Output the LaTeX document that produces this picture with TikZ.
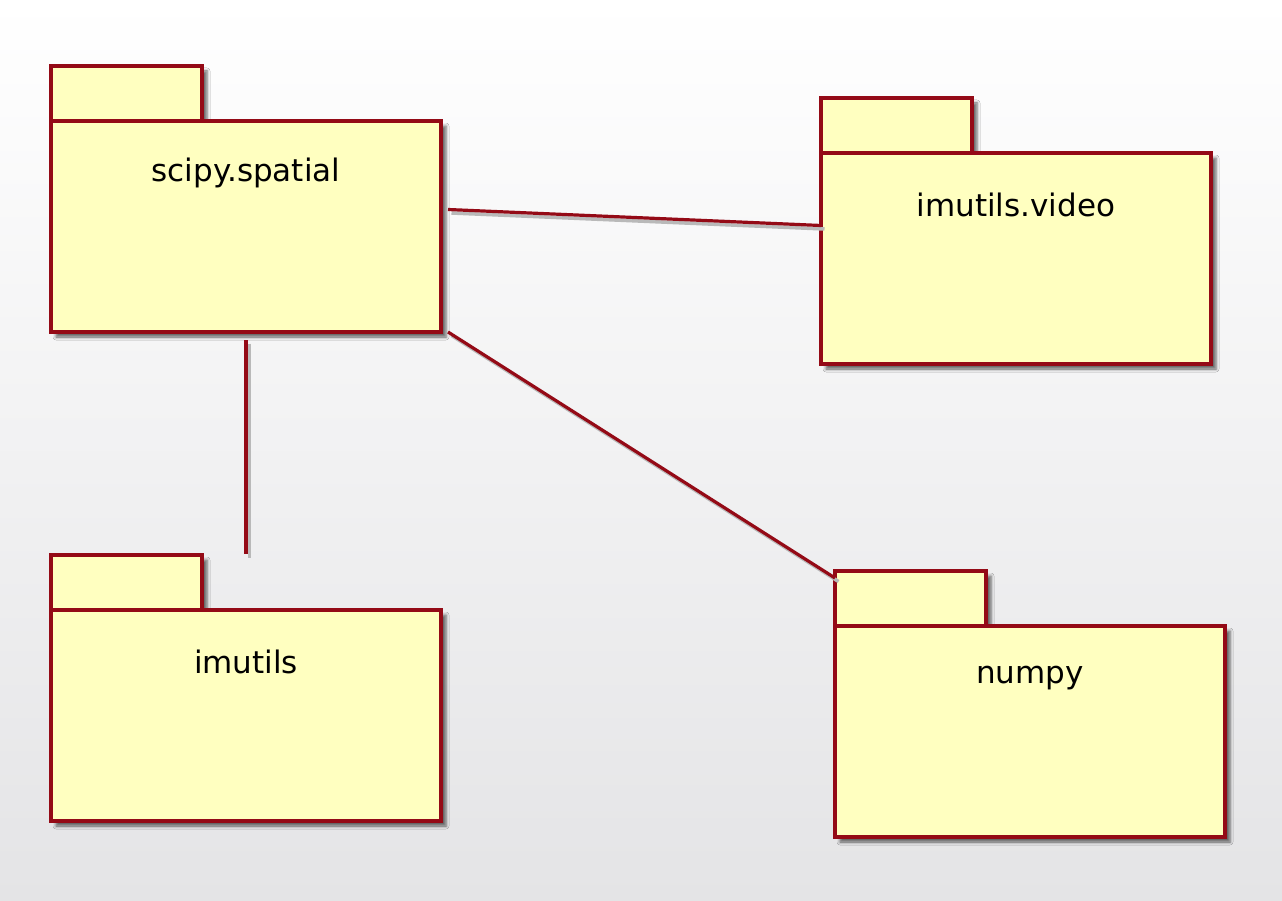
\documentclass[tikz,border=0pt]{standalone}
\usepackage{fontspec}
\setmainfont{DejaVu Sans}
\usetikzlibrary{positioning,shadows.blur}
\definecolor{pkgred}{HTML}{940A16}
\definecolor{pkgfill}{HTML}{FFFFC0}
\definecolor{bgbottom}{HTML}{E4E4E6}
\tikzset{
  pkgbody/.style={draw=pkgred, fill=pkgfill, line width=3.2pt, minimum width=390pt, minimum height=211pt, inner sep=0pt, outer sep=0pt,
    blur shadow={shadow xshift=5pt, shadow yshift=-5pt, shadow blur radius=3pt, shadow opacity=60}},
  pkgtab/.style={pkgbody, minimum width=151pt, minimum height=55pt, anchor=south west},
  pkgname/.style={anchor=center, yshift=-52pt, font=\fontsize{31}{37}\selectfont},
  link/.style={draw=pkgred, line width=3.2pt,
    preaction={draw=gray!55, line width=3.5pt, transform canvas={shift={(3.5pt,-3.5pt)}}}}
}
\begin{document}
\begin{tikzpicture}[x=1pt, y=-1pt]
\useasboundingbox[top color=white, bottom color=bgbottom] (0,0) rectangle (1282,901);
% packages: tab first, body below it
\node[pkgtab] (spatialtab) at (51,121) {};
\node[pkgbody, below right=0pt and 0pt of spatialtab.south west, label={[pkgname]north:scipy.spatial}] (spatial) {};
\node[pkgtab] (videotab) at (821,153) {};
\node[pkgbody, below right=0pt and 0pt of videotab.south west, label={[pkgname]north:imutils.video}] (video) {};
\node[pkgtab] (imutilstab) at (51,610) {};
\node[pkgbody, below right=0pt and 0pt of imutilstab.south west, label={[pkgname]north:imutils}] (imutils) {};
\node[pkgtab] (numpytab) at (835,626) {};
\node[pkgbody, below right=0pt and 0pt of numpytab.south west, label={[pkgname]north:numpy}] (numpy) {};
% links
\draw[link] ([xshift=7pt, yshift=17pt]spatial.east) -- ([yshift=33pt]video.west);
\draw[link] ([yshift=-8pt]spatial.south) -- ([yshift=1pt]spatial.south |- imutilstab.north);
\draw[link] ([xshift=7pt]spatial.south east) -- ([yshift=-7pt]numpytab.north west);
\end{tikzpicture}
\end{document}
